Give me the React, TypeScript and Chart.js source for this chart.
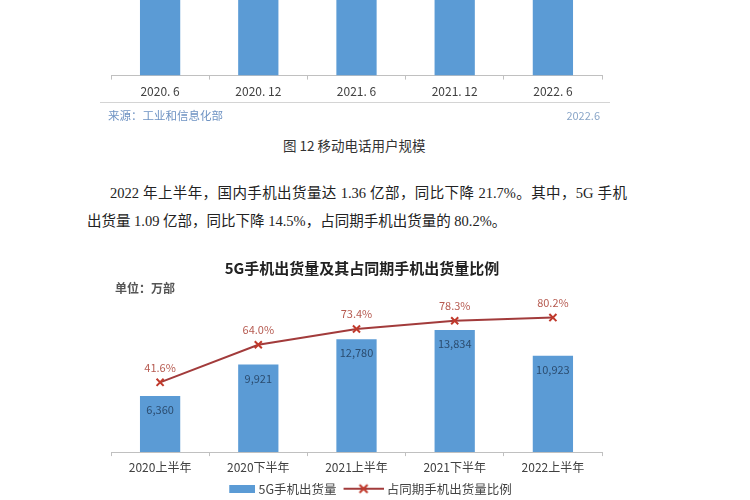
import React, { useEffect, useRef } from "react";
import { Chart, registerables } from "chart.js";

Chart.register(...registerables);

// ---- data ----
const topCategories = ["2020. 6", "2020. 12", "2021. 6", "2021. 12", "2022. 6"];
const topUsers = [15.94, 15.94, 16.14, 16.43, 16.68]; // 亿户 (bars are cut off at top of page)

const categories = ["2020上半年", "2020下半年", "2021上半年", "2021下半年", "2022上半年"];
const shipments5G = [6360, 9921, 12780, 13834, 10923]; // 万部
const shareOfTotal = [41.6, 64.0, 73.4, 78.3, 80.2]; // %
const seriesNames = ["5G手机出货量", "占同期手机出货量比例"];
const chartTitle = "5G手机出货量及其占同期手机出货量比例";

const BAR_COLOR = "#5b9bd5";
const LINE_COLOR = "#a23b3b";
const MARKER_COLOR = "#c0392b";
const AXIS_COLOR = "#c0c0c0";
const CJK_SANS = "'Noto Sans CJK SC', 'Noto Sans', sans-serif";
const SERIF = "'Liberation Serif', 'DejaVu Serif', 'Noto Sans CJK SC', serif";

Chart.defaults.font.family = CJK_SANS;

const valueLabels = {
  id: "valueLabels",
  afterDatasetsDraw(chart: any) {
    const ctx = chart.ctx;
    ctx.save();
    ctx.textAlign = "center";
    ctx.textBaseline = "middle";
    chart.data.datasets.forEach((ds: any, di: number) => {
      const meta = chart.getDatasetMeta(di);
      meta.data.forEach((el: any, i: number) => {
        const v = ds.data[i];
        if (ds.type === "bar") {
          ctx.font = `11px ${CJK_SANS}`;
          ctx.fillStyle = "#2b4c6f";
          ctx.fillText(v.toLocaleString("en-US"), el.x, el.y + 14);
        } else {
          ctx.font = `11px ${CJK_SANS}`;
          ctx.fillStyle = "#b65a50";
          ctx.fillText(v.toFixed(1) + "%", el.x, el.y - 15);
        }
      });
    });
    ctx.restore();
  },
};

const SYM_W = 46;
const BOX_W = 40;

function makeBarSymbol() {
  const c = document.createElement("canvas");
  c.width = SYM_W;
  c.height = 8;
  const g = c.getContext("2d")!;
  g.fillStyle = BAR_COLOR;
  g.fillRect(SYM_W - 26, 0, 26, 8);
  return c;
}

function makeLineSymbol() {
  const c = document.createElement("canvas");
  c.width = SYM_W;
  c.height = 12;
  const g = c.getContext("2d")!;
  const x0 = SYM_W - 40;
  g.strokeStyle = LINE_COLOR;
  g.lineWidth = 2;
  g.beginPath();
  g.moveTo(x0, 6);
  g.lineTo(SYM_W, 6);
  g.stroke();
  g.strokeStyle = MARKER_COLOR;
  const cx = x0 + 20;
  g.beginPath();
  g.moveTo(cx - 4, 2);
  g.lineTo(cx + 4, 10);
  g.moveTo(cx + 4, 2);
  g.lineTo(cx - 4, 10);
  g.stroke();
  return c;
}

function TopChart() {
  const ref = useRef<HTMLCanvasElement>(null);
  useEffect(() => {
    const chart = new Chart(ref.current!, {
      type: "bar",
      data: {
        labels: topCategories,
        datasets: [
          {
            data: topUsers,
            backgroundColor: BAR_COLOR,
            barPercentage: 0.41,
            categoryPercentage: 1,
          },
        ],
      },
      options: {
        animation: false,
        responsive: false,
        layout: { padding: { left: 111, right: 148, top: 0, bottom: 0 } },
        plugins: { legend: { display: false }, tooltip: { enabled: false } },
        scales: {
          x: {
            grid: {
              display: true,
              drawOnChartArea: false,
              drawTicks: true,
              tickLength: 4,
              color: AXIS_COLOR,
            },
            border: { display: true, color: AXIS_COLOR },
            ticks: { color: "#404040", font: { size: 12 }, padding: 5 },
          },
          y: { display: false, min: 0, max: 3 },
        },
      },
    });
    return () => chart.destroy();
  }, []);
  return (
    <canvas
      ref={ref}
      width={750}
      height={104}
      style={{ position: "absolute", left: 0, top: 0, width: 750, height: 104 }}
    />
  );
}

function MainChart() {
  const ref = useRef<HTMLCanvasElement>(null);
  useEffect(() => {
    const barSym = makeBarSymbol();
    const lineSym = makeLineSymbol();
    const chart = new Chart(ref.current!, {
      type: "bar",
      data: {
        labels: categories,
        datasets: [
          {
            type: "bar",
            label: seriesNames[0],
            data: shipments5G,
            backgroundColor: BAR_COLOR,
            barPercentage: 0.41,
            categoryPercentage: 1,
            yAxisID: "y",
            order: 1,
          } as any,
          {
            type: "line",
            label: seriesNames[1],
            data: shareOfTotal,
            borderColor: LINE_COLOR,
            borderWidth: 2,
            tension: 0,
            pointStyle: "crossRot",
            pointRadius: 5,
            pointBorderWidth: 2,
            pointBorderColor: MARKER_COLOR,
            pointBackgroundColor: MARKER_COLOR,
            yAxisID: "y1",
            order: 0,
          } as any,
        ],
      },
      options: {
        animation: false,
        responsive: false,
        layout: { padding: { left: 0, right: 12, top: 0, bottom: -5 } },
        plugins: {
          tooltip: { enabled: false },
          title: {
            display: true,
            text: chartTitle,
            color: "#222",
            font: { size: 15, weight: "bold" },
            padding: { top: 9, bottom: 25 },
          },
          legend: {
            display: true,
            position: "bottom",
            labels: {
              usePointStyle: true,
              pointStyleWidth: BOX_W,
              color: "#444",
              font: { size: 12.5 },
              padding: 4,
              generateLabels: () => [
                {
                  text: seriesNames[0],
                  pointStyle: barSym,
                  fillStyle: BAR_COLOR,
                  strokeStyle: "transparent",
                  lineWidth: 0,
                  hidden: false,
                  datasetIndex: 0,
                  fontColor: "#444",
                } as any,
                {
                  text: seriesNames[1],
                  pointStyle: lineSym,
                  fillStyle: LINE_COLOR,
                  strokeStyle: "transparent",
                  lineWidth: 0,
                  hidden: false,
                  datasetIndex: 1,
                  fontColor: "#444",
                } as any,
              ],
            },
          },
        },
        scales: {
          x: {
            grid: {
              display: true,
              drawOnChartArea: false,
              drawTicks: true,
              tickLength: 4,
              color: AXIS_COLOR,
              offset: true,
            },
            border: { display: true, color: AXIS_COLOR },
            ticks: { color: "#404040", font: { size: 12 }, padding: 4 },
          },
          y: {
            position: "left",
            min: 0,
            max: 17000,
            ticks: { display: false },
            grid: { display: false, drawTicks: false },
            border: { display: false },
            afterFit: (s: any) => {
              s.width = 111;
            },
          },
          y1: {
            position: "right",
            min: 0,
            max: 89.5,
            ticks: { display: false },
            grid: { display: false, drawTicks: false },
            border: { display: false },
            afterFit: (s: any) => {
              s.width = 122;
            },
          },
        },
      },
      plugins: [valueLabels],
    });
    return () => chart.destroy();
  }, []);
  return (
    <canvas
      ref={ref}
      width={736}
      height={250}
      style={{ position: "absolute", left: 0, top: 250, width: 736, height: 250 }}
    />
  );
}

function Txt(props: { x?: number; right?: number; cy: number; size: number; color: string; font: string; weight?: any; children: any; width?: number; justify?: boolean }) {
  const lh = 20;
  const style: any = {
    position: "absolute",
    top: props.cy - lh / 2,
    lineHeight: lh + "px",
    fontSize: props.size,
    color: props.color,
    fontFamily: props.font,
    fontWeight: props.weight || "normal",
    whiteSpace: "nowrap",
  };
  if (props.x !== undefined) style.left = props.x;
  if (props.right !== undefined) style.right = props.right;
  if (props.width !== undefined) {
    style.width = props.width;
    if (props.justify) {
      style.textAlign = "justify";
      style.textAlignLast = "justify";
    }
  }
  return <div style={style}>{props.children}</div>;
}

export default function App() {
  return (
    <div
      style={{
        position: "absolute",
        left: 0,
        top: 0,
        width: 750,
        height: 500,
        overflow: "hidden",
        background: "#fff",
      }}
    >
      <TopChart />
      <div
        style={{
          position: "absolute",
          left: 100,
          top: 102,
          width: 510,
          height: 0,
          borderTop: "1px solid #d4d4d4",
        }}
      />
      <Txt x={108} cy={115} size={11.5} color="#6f93c3" font={CJK_SANS}>
        来源：工业和信息化部
      </Txt>
      <Txt right={150} cy={115} size={11} color="#8aa6c8" font={CJK_SANS}>
        2022.6
      </Txt>
      <Txt x={283} cy={145} size={13.5} color="#333" font={CJK_SANS} weight={400}>
        图 12 移动电话用户规模
      </Txt>
      <Txt x={110} cy={193} size={14.5} color="#222" font={SERIF} width={517} justify>
        2022 年上半年，国内手机出货量达 1.36 亿部，同比下降 21.7%。其中，5G 手机
      </Txt>
      <Txt x={87} cy={221} size={14.5} color="#222" font={SERIF}>
        出货量 1.09 亿部，同比下降 14.5%，占同期手机出货量的 80.2%。
      </Txt>
      <MainChart />
      <Txt x={115} cy={288} size={12} color="#555" font={CJK_SANS} weight="bold">
        单位：万部
      </Txt>
    </div>
  );
}
